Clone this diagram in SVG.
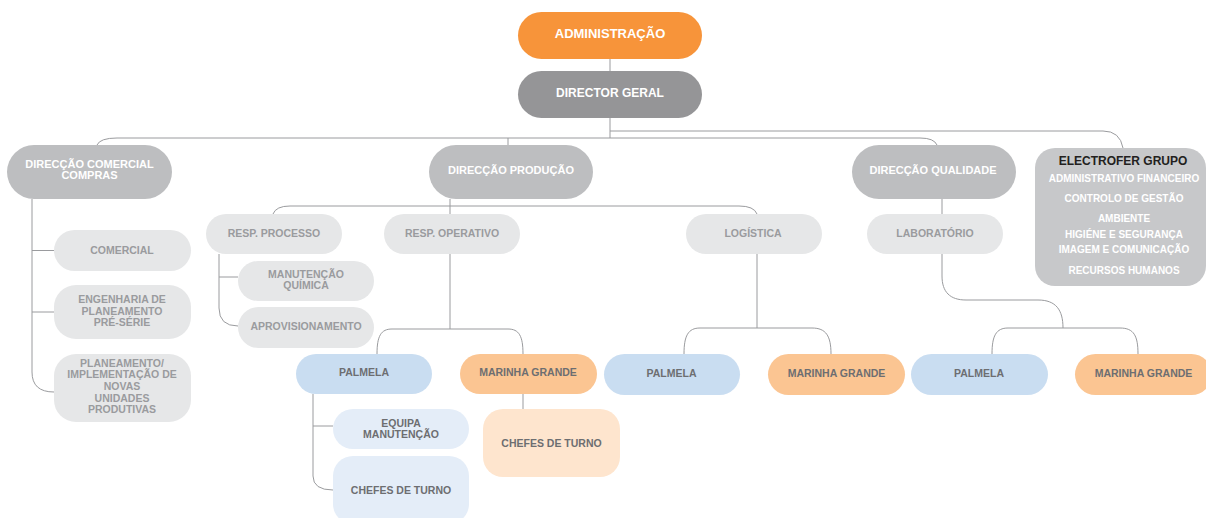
<svg xmlns="http://www.w3.org/2000/svg" width="1206" height="518" viewBox="0 0 1206 518">
<style>
text{font-family:"Liberation Sans",Arial,sans-serif;font-weight:bold;text-anchor:middle}
.w{fill:#ffffff}
.g{fill:#9a9b9e}
.d{fill:#6d6e71}
.k{fill:#231f20}
.f13{font-size:13px}
.f12{font-size:12px}
.f11{font-size:11px}
.f105{font-size:10.5px}
.f10{font-size:10px}
.admin{fill:#f7943a}
.dg{fill:#959597}
.dir{fill:#bdbec0}
.lt{fill:#e6e7e8}
.pal{fill:#c9ddf1}
.mar{fill:#fbc592}
.pal2{fill:#e4edf8}
.mar2{fill:#fee5ce}
.grp{fill:#c7c8ca}
.c{fill:none;stroke:#9a9b9e;stroke-width:1}
</style>
<g id="connectors">
<path class="c" d="M610,59 V71"/>
<path class="c" d="M610,118 V138"/>
<path class="c" d="M97,145 Q100,138 117,138 H920 Q934,138 937,145"/>
<path class="c" d="M508,138 V145"/>
<path class="c" d="M610,131 H1103 Q1120,131 1123,148"/>
<path class="c" d="M32,199 V372 Q32,392 54,392"/>
<path class="c" d="M32,250.5 H54"/>
<path class="c" d="M32,312 H54"/>
<path class="c" d="M450,199 V214"/>
<path class="c" d="M273,214 Q276,206 290,206 H739 Q754,206 757,214"/>
<path class="c" d="M219,254 V308 Q219,326 238,326"/>
<path class="c" d="M219,277 H238"/>
<path class="c" d="M450,254 V329"/>
<path class="c" d="M377,354 C377,336 381,329 392,329 H508 C519,329 523,336 523,354"/>
<path class="c" d="M757,254 V328"/>
<path class="c" d="M684,354 C684,336 688,328 700,328 H812 C826,328 831,336 831,354"/>
<path class="c" d="M942,199 V214"/>
<path class="c" d="M942,254 V276 C942,292 950,300 966,300 H1038 C1056,300 1063,310 1063,328"/>
<path class="c" d="M992,354 C992,336 996,328 1008,328 H1120 C1134,328 1138,336 1138,354"/>
<path class="c" d="M313,394 V476 Q313,490 333,490"/>
<path class="c" d="M313,426 H333"/>
<path class="c" d="M523,394 V409"/>
</g>
<g id="n-admin"><rect class="admin" x="518" y="12" width="184" height="47" rx="23.5"/><text class="w f13" x="610" y="38">ADMINISTRAÇÃO</text></g>
<g id="n-director"><rect class="dg" x="518" y="71" width="184" height="47" rx="23.5"/><text class="w f12" x="610" y="97">DIRECTOR GERAL</text></g>
<g id="n-dcomercial"><rect class="dir" x="7" y="145" width="165" height="54" rx="27"/><text class="w f11" x="89.5" y="168">DIRECÇÃO COMERCIAL</text><text class="w f11" x="89.5" y="179">COMPRAS</text></g>
<g id="n-dproducao"><rect class="dir" x="429" y="145" width="164" height="54" rx="27"/><text class="w f11" x="511" y="174">DIRECÇÃO PRODUÇÃO</text></g>
<g id="n-dqualidade"><rect class="dir" x="852" y="145" width="164" height="54" rx="27"/><text class="w f11" x="933" y="174">DIRECÇÃO QUALIDADE</text></g>
<g id="n-electrofer"><rect class="grp" x="1035" y="148" width="171" height="138" rx="20"/>
<text class="k f12" x="1123" y="165">ELECTROFER GRUPO</text>
<text class="w f10" x="1124" y="182">ADMINISTRATIVO FINANCEIRO</text>
<text class="w f10" x="1124" y="202">CONTROLO DE GESTÃO</text>
<text class="w f10" x="1124" y="221.5">AMBIENTE</text>
<text class="w f10" x="1124" y="237.5">HIGIÉNE E SEGURANÇA</text>
<text class="w f10" x="1124" y="253">IMAGEM E COMUNICAÇÃO</text>
<text class="w f10" x="1124" y="273.5">RECURSOS HUMANOS</text></g>
<g id="n-comercial"><rect class="lt" x="54" y="230" width="137" height="41" rx="20.5"/><text class="g f105" x="122" y="254">COMERCIAL</text></g>
<g id="n-engenharia"><rect class="lt" x="54" y="285" width="137" height="54" rx="22"/><text class="g f105" x="122" y="303">ENGENHARIA DE</text><text class="g f105" x="122" y="314.5">PLANEAMENTO</text><text class="g f105" x="122" y="326">PRÉ-SÉRIE</text></g>
<g id="n-planeamento"><rect class="lt" x="54" y="354" width="137" height="68" rx="22"/><text class="g f105" x="122" y="367">PLANEAMENTO/</text><text class="g f105" x="122" y="378">IMPLEMENTAÇÃO DE</text><text class="g f105" x="122" y="389.5">NOVAS</text><text class="g f105" x="122" y="401.5">UNIDADES</text><text class="g f105" x="122" y="413">PRODUTIVAS</text></g>
<g id="n-respprocesso"><rect class="lt" x="206" y="214" width="136" height="40" rx="20"/><text class="g f105" x="274" y="237">RESP. PROCESSO</text></g>
<g id="n-manutencao"><rect class="lt" x="238" y="261" width="136" height="40" rx="20"/><text class="g f105" x="306" y="277.5">MANUTENÇÃO</text><text class="g f105" x="306" y="288.5">QUÍMICA</text></g>
<g id="n-aprovisionamento"><rect class="lt" x="238" y="307" width="136" height="41" rx="20.5"/><text class="g f105" x="306" y="330">APROVISIONAMENTO</text></g>
<g id="n-respoperativo"><rect class="lt" x="384" y="214" width="136" height="40" rx="20"/><text class="g f105" x="452" y="237">RESP. OPERATIVO</text></g>
<g id="n-logistica"><rect class="lt" x="686" y="214" width="136" height="40" rx="20"/><text class="g f105" x="753" y="237">LOGÍSTICA</text></g>
<g id="n-laboratorio"><rect class="lt" x="867" y="214" width="136" height="40" rx="20"/><text class="g f105" x="935" y="237">LABORATÓRIO</text></g>
<g id="n-palmela-op"><rect class="pal" x="296" y="354" width="136" height="40" rx="20"/><text class="d f105" x="364" y="376">PALMELA</text></g>
<g id="n-marinha-op"><rect class="mar" x="460" y="354" width="137" height="40" rx="20"/><text class="d f105" x="528" y="376">MARINHA GRANDE</text></g>
<g id="n-palmela-log"><rect class="pal" x="604" y="354" width="136" height="41" rx="20.5"/><text class="d f105" x="671.5" y="377">PALMELA</text></g>
<g id="n-marinha-log"><rect class="mar" x="768" y="354" width="137" height="41" rx="20.5"/><text class="d f105" x="836.5" y="377">MARINHA GRANDE</text></g>
<g id="n-palmela-lab"><rect class="pal" x="911" y="354" width="137" height="41" rx="20.5"/><text class="d f105" x="979" y="377">PALMELA</text></g>
<g id="n-marinha-lab"><rect class="mar" x="1075" y="354" width="137" height="41" rx="20.5"/><text class="d f105" x="1143.5" y="377">MARINHA GRANDE</text></g>
<g id="n-equipa"><rect class="pal2" x="333" y="409" width="136" height="40" rx="20"/><text class="d f105" x="401" y="427">EQUIPA</text><text class="d f105" x="401" y="437.5">MANUTENÇÃO</text></g>
<g id="n-chefes-pal"><rect class="pal2" x="333" y="456" width="136" height="68" rx="20"/><text class="d f105" x="401" y="494">CHEFES DE TURNO</text></g>
<g id="n-chefes-mar"><rect class="mar2" x="483" y="409" width="137" height="68" rx="20"/><text class="d f105" x="551.5" y="447">CHEFES DE TURNO</text></g>
</svg>
